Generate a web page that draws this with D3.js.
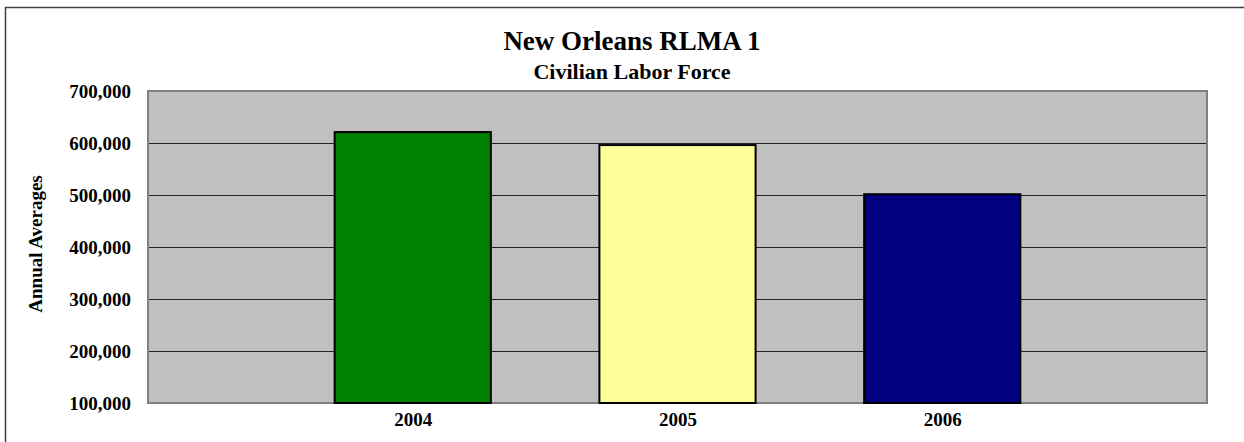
<!DOCTYPE html>
<html>
<head>
<meta charset="utf-8">
<script src="https://cdn.jsdelivr.net/npm/d3@7"></script>
<style>
  html, body { margin: 0; padding: 0; background: #fff; }
  svg { display: block; }
  text { font-family: "Liberation Serif", "Times New Roman", serif; font-weight: bold; fill: #000; }
</style>
</head>
<body>
<svg id="chart" width="1244" height="442"></svg>
<script>
const categories = ["2004", "2005", "2006"];
const values = [621000, 596000, 501500];
const barColors = ["#008000", "#FFFF99", "#000080"];
const yTicks = [100000, 200000, 300000, 400000, 500000, 600000, 700000];
const titleText = "New Orleans RLMA 1";
const subtitleText = "Civilian Labor Force";
const yAxisLabel = "Annual Averages";

const svg = d3.select("#chart");
const W = 1244, H = 442;
const plot = { left: 148, top: 91, right: 1207, bottom: 403 };

// outer frame
svg.append("rect")
  .attr("x", 5.5).attr("y", 7.5)
  .attr("width", 1260).attr("height", 460)
  .attr("fill", "#fff").attr("stroke", "#404040").attr("stroke-width", 1.5);

const y = d3.scaleLinear().domain([100000, 700000]).range([plot.bottom, plot.top]);
const x = d3.scalePoint().domain(categories).range([plot.left, plot.right]).padding(1);
const barW = x.step() * 0.59;

// plot background
svg.append("rect")
  .attr("x", plot.left).attr("y", plot.top)
  .attr("width", plot.right - plot.left).attr("height", plot.bottom - plot.top)
  .attr("fill", "#C0C0C0");

// gridlines
svg.append("g")
  .selectAll("line")
  .data(yTicks.filter(t => t > 100000 && t < 700000))
  .join("line")
  .attr("x1", plot.left).attr("x2", plot.right)
  .attr("y1", d => Math.round(y(d)) + 0.5).attr("y2", d => Math.round(y(d)) + 0.5)
  .attr("stroke", "#222").attr("stroke-width", 1);

// plot border
svg.append("rect")
  .attr("x", plot.left).attr("y", plot.top)
  .attr("width", plot.right - plot.left).attr("height", plot.bottom - plot.top)
  .attr("fill", "none").attr("stroke", "#808080").attr("stroke-width", 2);

// bars
svg.append("g")
  .selectAll("rect")
  .data(categories.map((c, i) => ({ c, v: values[i], col: barColors[i] })))
  .join("rect")
  .attr("x", d => x(d.c) - barW / 2)
  .attr("y", d => y(d.v))
  .attr("width", barW)
  .attr("height", d => y(100000) - y(d.v))
  .attr("fill", d => d.col)
  .attr("stroke", "#000").attr("stroke-width", 2);

// y axis (labels only)
const yAxis = d3.axisLeft(y)
  .tickValues(yTicks)
  .tickFormat(d3.format(","))
  .tickSize(0).tickPadding(17);
const gy = svg.append("g").attr("transform", `translate(${plot.left},0)`).call(yAxis);
gy.select(".domain").remove();
gy.selectAll("text")
  .attr("font-family", "Liberation Serif, Times New Roman, serif")
  .attr("font-size", 19).attr("font-weight", "bold").attr("fill", "#000");

// x axis (labels only)
const xAxis = d3.axisBottom(x).tickSize(0).tickPadding(10);
const gx = svg.append("g").attr("transform", `translate(0,${plot.bottom})`).call(xAxis);
gx.select(".domain").remove();
gx.selectAll("text")
  .attr("font-family", "Liberation Serif, Times New Roman, serif")
  .attr("font-size", 19).attr("font-weight", "bold").attr("fill", "#000");

// titles
svg.append("text")
  .attr("x", 632).attr("y", 50)
  .attr("text-anchor", "middle")
  .attr("font-size", 27)
  .text(titleText);
svg.append("text")
  .attr("x", 632).attr("y", 79)
  .attr("text-anchor", "middle")
  .attr("font-size", 22)
  .text(subtitleText);

// y axis label
svg.append("text")
  .attr("transform", `translate(42,${(plot.top + plot.bottom) / 2 - 3}) rotate(-90)`)
  .attr("text-anchor", "middle")
  .attr("font-size", 19)
  .text(yAxisLabel);
</script>
</body>
</html>
